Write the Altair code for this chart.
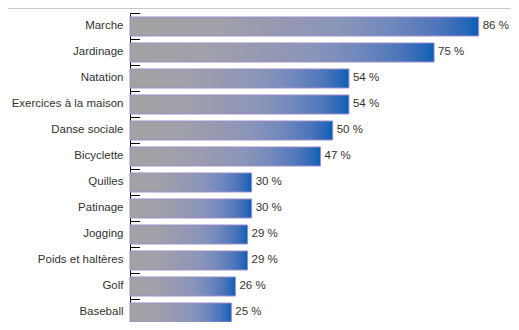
import altair as alt
import pandas as pd

cats = ["Marche", "Jardinage", "Natation", "Exercices à la maison", "Danse sociale",
        "Bicyclette", "Quilles", "Patinage", "Jogging", "Poids et haltères", "Golf", "Baseball"]
vals = [86, 75, 54, 54, 50, 47, 30, 30, 29, 29, 26, 25]

df = pd.DataFrame({"cat": cats, "val": vals})
df["lab"] = df["val"].astype(str) + " %"

FONT = "Liberation Sans, Arial, sans-serif"

grad = alt.Gradient(
    gradient="linear", x1=0, x2=1, y1=0, y2=0,
    stops=[
        alt.GradientStop(offset=0, color="#a2a2a2"),
        alt.GradientStop(offset=0.25, color="#a0a1aa"),
        alt.GradientStop(offset=0.45, color="#9598b2"),
        alt.GradientStop(offset=0.6, color="#8a95ba"),
        alt.GradientStop(offset=0.75, color="#7088bc"),
        alt.GradientStop(offset=0.88, color="#4f76ba"),
        alt.GradientStop(offset=0.96, color="#2a68b8"),
        alt.GradientStop(offset=1, color="#0860b4"),
    ],
)

yenc = alt.Y("cat:N", sort=cats,
             scale=alt.Scale(paddingInner=0.269, paddingOuter=0.0575, align=1),
             axis=alt.Axis(title=None, ticks=False, labelPadding=7, labelFont=FONT,
                           labelFontSize=11.5, labelColor="#333333", domainColor="#000000",
                           domainWidth=1, labelLimit=200))
xenc = alt.X("val:Q", scale=alt.Scale(domain=[0, 92]), axis=None)

base = alt.Chart(df)

bars = base.mark_bar(color=grad, stroke="#9e8ecc", strokeWidth=1).encode(x=xenc, y=yenc)

text = base.mark_text(align="left", dx=4, font=FONT, fontSize=11.5, color="#333333").encode(
    x=xenc, y=alt.Y("cat:N", sort=cats), text="lab:N")

ticks = base.mark_rule(color="#000000", strokeWidth=1, yOffset=-3.5).encode(
    y=alt.Y("cat:N", sort=cats, bandPosition=0),
    x=alt.value(0), x2=alt.value(10))

topline = alt.Chart(pd.DataFrame({"a": [0]})).mark_rule(color="#c8c8c8", strokeWidth=1).encode(
    y=alt.value(-5.5), x=alt.value(-122), x2=alt.value(381))

chart = alt.layer(bars, text, ticks, topline).properties(
    width=373, height=308,
    autosize=alt.AutoSizeParams(type="none"),
    padding={"left": 122, "top": 6, "right": 8, "bottom": 0},
).configure_view(stroke=None)

chart.save("out.html", embed_options={"renderer": "svg", "actions": False})
